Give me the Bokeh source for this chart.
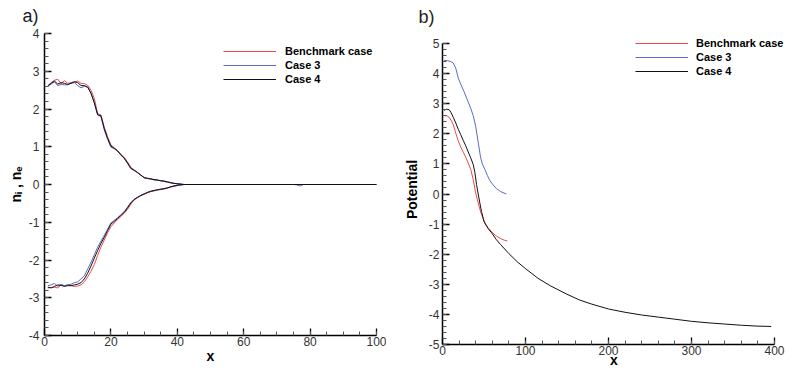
from bokeh.plotting import figure
from bokeh.layouts import row
from bokeh.models import (Legend, LegendItem, SingleIntervalTicker, Range1d,
                          PrintfTickFormatter)
from bokeh.embed import file_html
from bokeh.resources import INLINE

# ---------------- data: panel a) densities ----------------
x_a = list(range(1, 43)) + [45, 50, 55, 60, 65, 70, 75, 76, 77, 78, 80, 85, 90, 95, 100]
tail0 = [0.0] * 15
tail_blue = [0.0] * 7 + [-0.01, -0.04, 0.0] + [0.0] * 5

ni_bench = [2.60, 2.70, 2.76, 2.79, 2.67, 2.75, 2.68, 2.70, 2.72, 2.74,
            2.68, 2.67, 2.63, 2.50, 2.28, 1.88, 1.84, 1.52, 1.27, 1.05,
            0.97, 0.90, 0.80, 0.72, 0.60, 0.46, 0.38, 0.32, 0.25, 0.19,
            0.17, 0.15, 0.13, 0.12, 0.10, 0.09, 0.07, 0.05, 0.03, 0.02,
            0.01, 0.00] + tail0
ni_case3 = [2.60, 2.66, 2.72, 2.62, 2.65, 2.64, 2.64, 2.68, 2.70, 2.62,
            2.56, 2.60, 2.58, 2.42, 2.16, 1.84, 1.80, 1.45, 1.20, 0.99,
            0.95, 0.88, 0.78, 0.69, 0.56, 0.42, 0.37, 0.31, 0.25, 0.18,
            0.16, 0.14, 0.12, 0.11, 0.10, 0.08, 0.06, 0.04, 0.03, 0.02,
            0.01, 0.00] + tail_blue
ni_case4 = [2.62, 2.68, 2.74, 2.66, 2.70, 2.68, 2.65, 2.68, 2.72, 2.70,
            2.62, 2.62, 2.58, 2.42, 2.17, 1.85, 1.82, 1.48, 1.22, 1.02,
            0.96, 0.89, 0.79, 0.70, 0.57, 0.43, 0.38, 0.32, 0.25, 0.18,
            0.16, 0.15, 0.13, 0.12, 0.10, 0.09, 0.07, 0.05, 0.03, 0.02,
            0.01, 0.00] + tail0

ne_bench = [-2.74, -2.73, -2.72, -2.74, -2.66, -2.68, -2.66, -2.68, -2.70, -2.69,
            -2.66, -2.58, -2.45, -2.30, -2.12, -1.88, -1.66, -1.47, -1.28, -1.12,
            -1.02, -0.93, -0.85, -0.76, -0.66, -0.52, -0.41, -0.35, -0.30, -0.26,
            -0.22, -0.19, -0.17, -0.15, -0.13, -0.12, -0.10, -0.07, -0.05, -0.03,
            -0.01, 0.00] + tail0
ne_case3 = [-2.68, -2.66, -2.62, -2.70, -2.65, -2.68, -2.66, -2.64, -2.60, -2.58,
            -2.50, -2.42, -2.24, -2.06, -1.86, -1.66, -1.50, -1.35, -1.18, -1.02,
            -0.95, -0.88, -0.80, -0.72, -0.60, -0.48, -0.39, -0.34, -0.29, -0.25,
            -0.21, -0.18, -0.16, -0.14, -0.12, -0.11, -0.09, -0.06, -0.04, -0.02,
            -0.01, 0.00] + tail0
ne_case4 = [-2.72, -2.74, -2.70, -2.66, -2.67, -2.70, -2.68, -2.68, -2.66, -2.64,
            -2.60, -2.50, -2.35, -2.16, -1.95, -1.75, -1.56, -1.40, -1.22, -1.05,
            -0.98, -0.90, -0.82, -0.74, -0.62, -0.49, -0.40, -0.34, -0.29, -0.25,
            -0.21, -0.18, -0.16, -0.14, -0.13, -0.11, -0.09, -0.06, -0.04, -0.02,
            -0.01, 0.00] + tail0

# ---------------- data: panel b) potential ----------------
xb_bench = [2, 5, 8, 11, 13, 16, 19, 22, 25, 28, 31, 34, 37, 40, 43, 46, 49,
            52, 55, 60, 65, 70, 75, 78]
pot_bench = [2.60, 2.60, 2.55, 2.42, 2.30, 2.02, 1.76, 1.56, 1.39, 1.22, 1.03,
             0.82, 0.48, 0.04, -0.30, -0.60, -0.82, -1.00, -1.12, -1.28, -1.40,
             -1.48, -1.54, -1.56]
xb_case3 = [2, 6, 10, 13, 16, 19, 22, 26, 30, 34, 37, 40, 43, 46, 48, 51, 54,
            57, 61, 65, 70, 77]
pot_case3 = [4.44, 4.43, 4.40, 4.35, 4.18, 3.85, 3.65, 3.40, 3.12, 2.85, 2.60,
             2.25, 1.72, 1.20, 1.00, 0.82, 0.62, 0.45, 0.30, 0.18, 0.08, 0.00]
xb_case4 = [2, 5, 8, 10, 13, 16, 19, 22, 25, 28, 31, 34, 37, 39, 41, 43, 45, 47,
            50, 55, 60, 65, 70, 80, 90, 100, 115, 130, 150, 165, 180, 200, 220,
            240, 260, 280, 300, 320, 340, 360, 380, 396]
pot_case4 = [2.78, 2.82, 2.80, 2.72, 2.55, 2.36, 2.15, 1.97, 1.78, 1.60, 1.40,
             1.20, 0.98, 0.72, 0.32, 0.00, -0.30, -0.58, -0.92, -1.15, -1.32,
             -1.52, -1.68, -1.98, -2.25, -2.48, -2.80, -3.05, -3.33, -3.52,
             -3.66, -3.82, -3.93, -4.02, -4.09, -4.16, -4.23, -4.28, -4.32,
             -4.36, -4.39, -4.40]

series_names = ["Benchmark case", "Case 3", "Case 4"]
colors = ["#ec4a4a", "#5a6cc8", "#111111"]

FONT = "Liberation Sans"


def style(p, xint, xminor, yint, yminor, xbounds, ybounds):
    p.outline_line_color = None
    p.xgrid.visible = False
    p.ygrid.visible = False
    p.xaxis.ticker = SingleIntervalTicker(interval=xint, num_minor_ticks=xminor)
    p.yaxis.ticker = SingleIntervalTicker(interval=yint, num_minor_ticks=yminor)
    p.xaxis.bounds = xbounds
    p.yaxis.bounds = ybounds
    for ax in (p.xaxis[0], p.yaxis[0]):
        ax.formatter = PrintfTickFormatter(format="%d")
        ax.axis_line_color = "black"
        ax.axis_line_width = 1.5
        ax.major_tick_in = 7
        ax.major_tick_out = 0
        ax.minor_tick_in = 4
        ax.minor_tick_out = 0
        ax.major_tick_line_color = "black"
        ax.major_tick_line_width = 1.3
        ax.minor_tick_line_color = "#555555"
        ax.major_label_text_font = FONT
        ax.major_label_text_font_size = "12px"
        ax.major_label_text_color = "#333333"
        ax.axis_label_text_font = FONT
        ax.axis_label_text_font_style = "bold"
        ax.axis_label_text_font_size = "14px"
        ax.axis_label_text_color = "black"
    p.title.text_font = FONT
    p.title.text_font_style = "normal"
    p.title.text_font_size = "18px"
    p.title.text_color = "#222222"
    p.title.align = "left"
    p.title.vertical_align = "top"


def add_legend(p, renderers, loc, standoff):
    items = [LegendItem(label=n, renderers=[r]) for n, r in zip(series_names, renderers)]
    lg = Legend(items=items, location=loc)
    lg.border_line_alpha = 0
    lg.background_fill_alpha = 0
    lg.label_text_font = FONT
    lg.label_text_font_style = "bold"
    lg.label_text_font_size = "11px"
    lg.label_text_color = "black"
    lg.label_height = 14
    lg.glyph_height = 14
    lg.glyph_width = 53
    lg.label_standoff = standoff
    lg.spacing = 0
    lg.padding = 0
    lg.margin = 0
    p.add_layout(lg, "center")


# ---------------- panel a ----------------
pa = figure(frame_width=332, frame_height=302, output_backend="svg",
            toolbar_location=None, frame_align=False, title="a)",
            x_range=Range1d(0, 100), y_range=Range1d(-4, 4),
            min_border_left=44, min_border_right=10, min_border_top=26,
            min_border_bottom=29)
style(pa, 20, 4, 1, 5, (0, 100), (-4, 4))
pa.title.offset = -22
pa.title.standoff = 11
pa.xaxis.axis_label = "x"
pa.yaxis.axis_label = "nᵢ , nₑ"
pa.xaxis.major_label_standoff = 1
pa.xaxis.axis_label_standoff = -1
pa.yaxis.major_label_standoff = 5
pa.yaxis.axis_label_standoff = 2
ra = []
for pos, neg, c in zip([ni_bench, ni_case3, ni_case4], [ne_bench, ne_case3, ne_case4], colors):
    r = pa.line(x_a, pos, line_color=c, line_width=1)
    pa.line(x_a, neg, line_color=c, line_width=1)
    ra.append(r)
add_legend(pa, ra, (179, 249), 9)

# ---------------- panel b ----------------
pb = figure(frame_width=343, frame_height=310, output_backend="svg",
            toolbar_location=None, frame_align=False, title="b)",
            x_range=Range1d(0, 413.25), y_range=Range1d(-5, 5.3),
            min_border_left=56, min_border_right=0, min_border_top=26,
            min_border_bottom=25)
style(pb, 100, 5, 1, 5, (0, 400), (-5, 5))
pb.title.offset = -24
pb.title.standoff = 12
pb.xaxis.axis_label = "x"
pb.yaxis.axis_label = "Potential"
pb.xaxis.major_label_standoff = 1
pb.xaxis.axis_label_standoff = -6
pb.yaxis.major_label_standoff = 3
pb.yaxis.axis_label_standoff = 6
rb = []
for xs, ys, c in zip([xb_bench, xb_case3, xb_case4], [pot_bench, pot_case3, pot_case4], colors):
    rb.append(pb.line(xs, ys, line_color=c, line_width=1))
add_legend(pb, rb, (193, 266), 8)

layout = row(pa, pb)
open("out.html", "w").write(file_html(layout, INLINE))
